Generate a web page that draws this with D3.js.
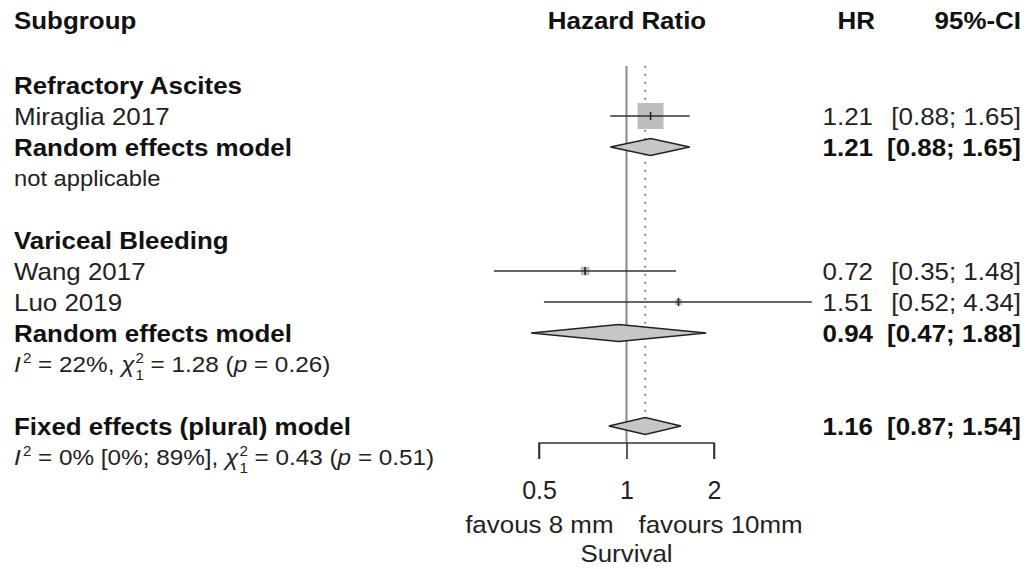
<!DOCTYPE html>
<html>
<head>
<meta charset="utf-8">
<script src="https://cdn.jsdelivr.net/npm/d3@7"></script>
<style>
  html, body { margin: 0; padding: 0; background: #fff; }
  svg { display: block; font-family: "Liberation Sans", Arial, sans-serif; }
</style>
</head>
<body>
<svg id="forest" width="1027" height="569"></svg>
<script>
// ---- data ----
const studyNames = ["Miraglia 2017", "Wang 2017", "Luo 2019"];
const studyGroup = ["Refractory Ascites", "Variceal Bleeding", "Variceal Bleeding"];
const studyHR = [1.21, 0.72, 1.51];
const studyLo = [0.88, 0.35, 0.52];
const studyHi = [1.65, 1.48, 4.34];
const studyWeight = [100, 11, 6];

const groupNames = ["Refractory Ascites", "Variceal Bleeding"];
const groupHR = [1.21, 0.94];
const groupLo = [0.88, 0.47];
const groupHi = [1.65, 1.88];
const groupHet = [null, { i2: "22%", q: "1.28", df: "1", p: "0.26" }];

const fixedHR = 1.16;
const fixedLo = 0.87;
const fixedHi = 1.54;
const fixedHet = { i2: "0% [0%; 89%]", q: "0.43", df: "1", p: "0.51" };

const axisTicks = [0.5, 1, 2];
const labelLeft = "favous 8 mm";
const labelRight = "favours 10mm";
const xLabel = "Survival";

// ---- layout ----
const SX = 1.08;          // source text is slightly wider than tall
const FS = 24;
const FS_HET = 22;
const leftX = 14;

const svg = d3.select("#forest");
const x = d3.scaleLog().base(2).domain([0.5, 2]).range([539, 714]);
const row = d3.scaleLinear().domain([0, 12]).range([85, 457]);
const sq = d3.scaleSqrt().domain([0, 100]).range([0, 26]);
const fmt = (v) => v.toFixed(2);

function label(px, py, str, opt = {}) {
  return svg.append("text")
    .attr("transform", `translate(${px},${py}) scale(${SX},1)`)
    .attr("dy", "0.36em")
    .attr("text-anchor", opt.anchor || "start")
    .attr("font-size", opt.size || FS)
    .attr("font-weight", opt.bold ? "bold" : "normal")
    .attr("fill", opt.bold ? "#111" : "#222")
    .text(str);
}

function hetLabel(py, het) {
  const t = svg.append("text")
    .attr("transform", `translate(${leftX},${py}) scale(${SX},1)`)
    .attr("dy", "0.36em")
    .attr("font-size", FS_HET + 0.5)
    .attr("fill", "#222");
  t.append("tspan").attr("font-style", "italic").text("I");
  t.append("tspan").attr("font-size", 14).attr("dx", 2).attr("dy", -9).text("2");
  t.append("tspan").attr("dy", 9).text(` = ${het.i2}, `);
  t.append("tspan").attr("font-style", "italic").text("χ");
  t.append("tspan").attr("font-size", 14).attr("dx", 1).attr("dy", -9).text("2");
  t.append("tspan").attr("font-size", 14).attr("dx", -7.8).attr("dy", 17).text(het.df);
  t.append("tspan").attr("dy", -8).text(` = ${het.q} (`);
  t.append("tspan").attr("font-style", "italic").text("p");
  t.append("tspan").text(` = ${het.p})`);
}

function diamond(py, est, lo, hi) {
  const h = 8.5;
  const pts = [[x(lo), py], [x(est), py - h], [x(hi), py], [x(est), py + h]];
  svg.append("path")
    .attr("d", d3.line()(pts) + "Z")
    .attr("fill", "#c6c6c6")
    .attr("stroke", "#222")
    .attr("stroke-width", 1.6);
}

function resultCols(py, est, lo, hi, bold) {
  label(873, py, fmt(est), { anchor: "end", bold });
  label(1021, py, `[${fmt(lo)}; ${fmt(hi)}]`, { anchor: "end", bold });
}

// headers
label(leftX, 20, "Subgroup", { bold: true });
label(627, 20, "Hazard Ratio", { bold: true, anchor: "middle" });
label(875, 20, "HR", { bold: true, anchor: "end" });
label(1021, 20, "95%-CI", { bold: true, anchor: "end" });

// reference lines
const yAxis = 443;
svg.append("line")
  .attr("x1", x(1)).attr("x2", x(1))
  .attr("y1", 66).attr("y2", yAxis)
  .attr("stroke", "#8a8a8a").attr("stroke-width", 2);
svg.append("line")
  .attr("x1", x(fixedHR)).attr("x2", x(fixedHR))
  .attr("y1", 66).attr("y2", row(11) - 9)
  .attr("stroke", "#555").attr("stroke-width", 1.6)
  .attr("stroke-dasharray", "1.6,6.4");

// groups
let r = 0;
groupNames.forEach((g, gi) => {
  label(leftX, row(r), g, { bold: true });
  r += 1;
  studyNames.forEach((s, si) => {
    if (studyGroup[si] !== g) return;
    const py = row(r);
    const size = sq(studyWeight[si]);
    label(leftX, py, s);
    svg.append("rect")
      .attr("x", x(studyHR[si]) - size / 2).attr("y", py - size / 2)
      .attr("width", size).attr("height", size)
      .attr("fill", "#bdbdbd");
    svg.append("line")
      .attr("x1", x(studyLo[si])).attr("x2", x(studyHi[si]))
      .attr("y1", py).attr("y2", py)
      .attr("stroke", "#333").attr("stroke-width", 1.6);
    svg.append("line")
      .attr("x1", x(studyHR[si])).attr("x2", x(studyHR[si]))
      .attr("y1", py - 4).attr("y2", py + 4)
      .attr("stroke", "#222").attr("stroke-width", 1.6);
    resultCols(py, studyHR[si], studyLo[si], studyHi[si], false);
    r += 1;
  });
  label(leftX, row(r), "Random effects model", { bold: true });
  diamond(row(r), groupHR[gi], groupLo[gi], groupHi[gi]);
  resultCols(row(r), groupHR[gi], groupLo[gi], groupHi[gi], true);
  r += 1;
  if (groupHet[gi]) hetLabel(row(r), groupHet[gi]);
  else label(leftX, row(r), "not applicable", { size: FS_HET });
  r += 2;
});

// overall fixed effect
label(leftX, row(r), "Fixed effects (plural) model", { bold: true });
diamond(row(r), fixedHR, fixedLo, fixedHi);
resultCols(row(r), fixedHR, fixedLo, fixedHi, true);
hetLabel(row(r + 1), fixedHet);

// axis
const axis = svg.append("g")
  .attr("transform", `translate(0,${yAxis})`)
  .call(d3.axisBottom(x).tickValues(axisTicks).tickSize(16).tickPadding(22).tickFormat((d) => String(d)));
axis.select(".domain")
  .attr("d", `M${x(0.5)},16V0H${x(2)}V16`)
  .attr("stroke", "#333").attr("stroke-width", 1.6);
axis.selectAll(".tick line").attr("stroke", "#333").attr("stroke-width", 1.6);
axis.selectAll(".tick text")
  .attr("font-size", 25).attr("fill", "#222")
  .attr("font-family", "Liberation Sans, Arial, sans-serif");

label(x(1) - 13, 524, labelLeft, { anchor: "end" });
label(x(1) + 12, 524, labelRight, { anchor: "start" });
label(x(1), 553, xLabel, { anchor: "middle" });
</script>
</body>
</html>
